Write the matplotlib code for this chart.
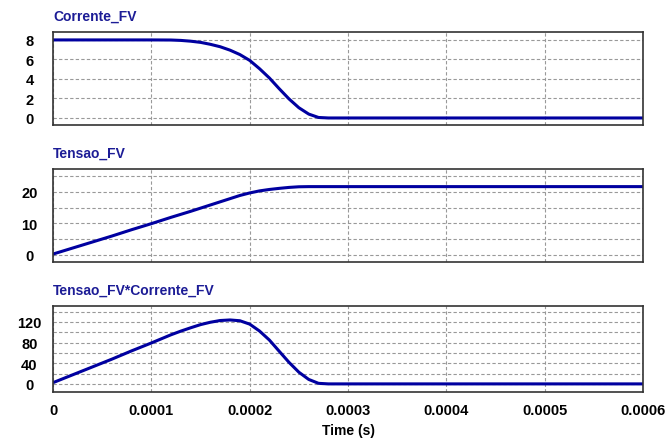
"Corrente, tensao e potencia do FV"
import matplotlib.pyplot as plt
import numpy as np
from matplotlib.ticker import MultipleLocator

plt.rcParams['font.family'] = ['Liberation Sans', 'DejaVu Sans']

# time points (s)
time_s = [0, 0.00002, 0.00004, 0.00006, 0.00008, 0.0001, 0.00012, 0.00013,
          0.00014, 0.00015, 0.00016, 0.00017, 0.00018, 0.00019, 0.0002,
          0.00021, 0.00022, 0.00023, 0.00024, 0.00025, 0.00026, 0.00027,
          0.00028, 0.0003, 0.0004, 0.0005, 0.0006]
# Corrente_FV (A)
corrente_fv = [8.0, 8.0, 8.0, 8.0, 8.0, 8.0, 7.99, 7.95,
               7.87, 7.75, 7.55, 7.3, 6.95, 6.5, 5.9,
               5.05, 4.1, 3.0, 1.95, 1.05, 0.4, 0.05,
               0.0, 0.0, 0.0, 0.0, 0.0]
# Tensao_FV (V)
tensao_fv = [0.3, 2.2, 4.1, 6.0, 8.0, 9.9, 11.9, 12.85,
             13.8, 14.8, 15.8, 16.8, 17.8, 18.8, 19.6,
             20.25, 20.7, 21.05, 21.35, 21.55, 21.6, 21.6,
             21.6, 21.6, 21.6, 21.6, 21.6]

titles = ['Corrente_FV', 'Tensao_FV', 'Tensao_FV*Corrente_FV']
x_ticks = [0, 0.0001, 0.0002, 0.0003, 0.0004, 0.0005, 0.0006]
x_labels = ['0', '0.0001', '0.0002', '0.0003', '0.0004', '0.0005', '0.0006']

LINE = '#0000a0'
TITLE = '#1c1c96'


def style_axis(ax, title, ylim, major, minor):
    "common PSIM-like look"
    ax.set_xlim(0, 0.0006)
    ax.set_ylim(*ylim)
    ax.set_xticks(x_ticks)
    ax.yaxis.set_major_locator(MultipleLocator(major))
    ax.yaxis.set_minor_locator(MultipleLocator(minor))
    ax.grid(True, which='both', color='#999999', linestyle=(0, (3, 2)), linewidth=0.8)
    ax.tick_params(which='both', length=0)
    ax.tick_params(axis='y', pad=17, labelsize=10.5)
    for lbl in ax.get_yticklabels():
        lbl.set_horizontalalignment('center')
        lbl.set_fontweight('bold')
    for sp in ax.spines.values():
        sp.set_color('#333333')
        sp.set_linewidth(1.2)
    ax.set_title(title, loc='left', color=TITLE, fontsize=10, fontweight='bold', pad=9)


def main():
    "main"
    t = np.array(time_s)
    cur = np.array(corrente_fv)
    ten = np.array(tensao_fv)
    pot = cur * ten

    fig = plt.figure(figsize=(6.67, 4.39), dpi=100)
    left, width = 0.0795, 0.8846
    ax1 = fig.add_axes([left, 0.713, width, 0.212])
    ax2 = fig.add_axes([left, 0.401, width, 0.212])
    ax3 = fig.add_axes([left, 0.105, width, 0.196])

    ax1.plot(t, cur, color=LINE, linewidth=2.2, solid_capstyle='butt')
    ax2.plot(t, ten, color=LINE, linewidth=2.2, solid_capstyle='butt')
    ax3.plot(t, pot, color=LINE, linewidth=2.2, solid_capstyle='butt')

    style_axis(ax1, titles[0], (-0.72, 8.82), 2, 2)
    style_axis(ax2, titles[1], (-2.2, 27.2), 10, 5)
    style_axis(ax3, titles[2], (-15.5, 151), 40, 20)

    ax1.set_xticklabels([])
    ax2.set_xticklabels([])
    ax3.set_xticklabels(x_labels, fontsize=10.5, fontweight='bold')
    ax3.tick_params(axis='x', pad=8)
    ax3.set_xlabel('Time (s)', fontsize=10, fontweight='bold', labelpad=4)

    fig.savefig('out.png', dpi=100)


if __name__ == '__main__':
    main()
